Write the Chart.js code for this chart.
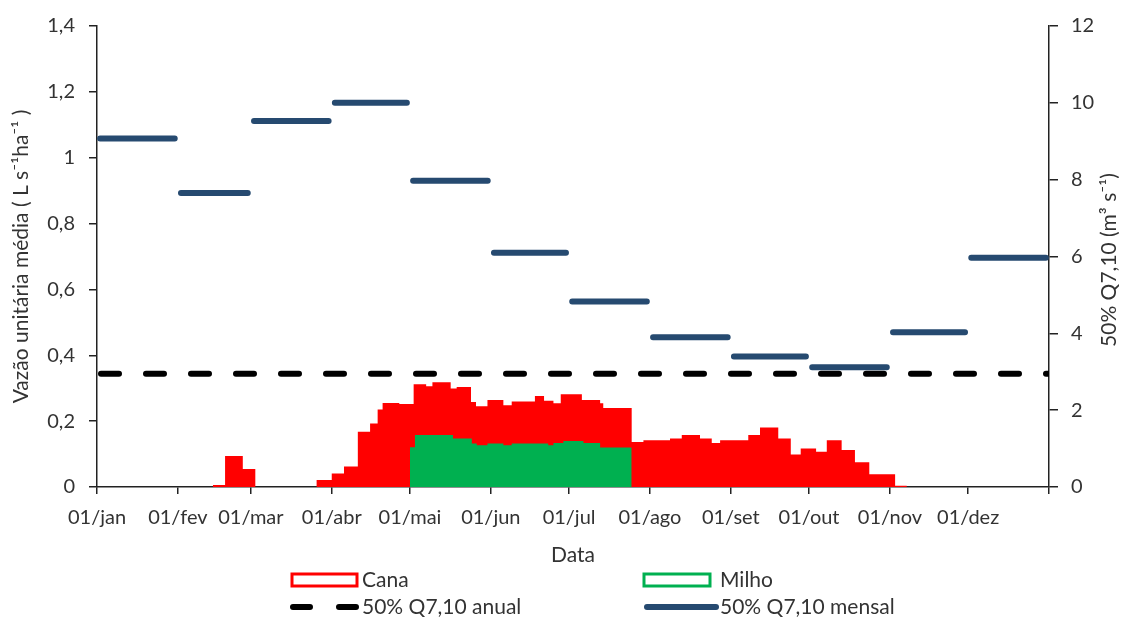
<!DOCTYPE html>
<html><head><meta charset="utf-8">
<script src="https://cdn.jsdelivr.net/npm/chart.js@4/dist/chart.umd.min.js"></script>
<style>html,body{margin:0;padding:0;background:#fff;} #wrap{width:1121px;height:618px;}</style>
</head><body><div id="wrap"><canvas id="c" width="1121" height="618"></canvas></div>
<script>
// ---- data ----
const monthTickDays = [0,31,59,90,120,151,181,212,243,273,304,334,365];
const monthTickLabels = ['01/jan','01/fev','01/mar','01/abr','01/mai','01/jun','01/jul','01/ago','01/set','01/out','01/nov','01/dez',''];
const leftTicks = [0,0.2,0.4,0.6,0.8,1,1.2,1.4];
const rightTicks = [0,2,4,6,8,10,12];

// Cana (step starts, day of year) and values (L s-1 ha-1)
const canaDays = [44.4,49.1,55.9,60.7,84.2,90.0,94.7,100.0,104.7,107.6,109.5,115.9,121.4,126.2,128.6,135.6,137.9,143.4,145.3,149.7,155.8,159.0,167.9,171.4,175.0,177.8,185.9,192.9,194.1,205.0,209.5,219.7,224.2,231.2,235.7,238.9,249.7,254.2,261.2,266.0,269.8,275.7,279.8,285.5,290.6,296.1,306.0,310.5];
const canaValues = [0.006,0.094,0.055,0,0.021,0.041,0.062,0.168,0.193,0.235,0.255,0.252,0.312,0.306,0.318,0.299,0.304,0.258,0.245,0.264,0.248,0.260,0.276,0.262,0.254,0.282,0.264,0.254,0.240,0.137,0.142,0.147,0.158,0.147,0.134,0.142,0.158,0.181,0.147,0.099,0.117,0.107,0.142,0.112,0.075,0.039,0.004,0];

// Milho
const milhoDays = [120.0,121.9,136.5,143.7,145.6,149.7,155.8,159.0,173.0,175.0,178.8,186.5,192.9,205.0];
const milhoValues = [0.121,0.158,0.147,0.132,0.127,0.132,0.127,0.132,0.127,0.134,0.140,0.134,0.120,0];

// 50% Q7,10 monthly (m3 s-1)
const monthStartDays = [0,31,59,90,120,151,181,212,243,273,304,334];
const monthEndDays = [31,59,90,120,151,181,212,243,273,304,334,365];
const q710Mensal = [9.07,7.65,9.53,10.0,7.97,6.10,4.83,3.90,3.40,3.12,4.03,5.97];
const q710Anual = 2.95;

const seriesLabels = ['Cana','Milho','50% Q7,10 anual','50% Q7,10 mensal'];
const leftTitle = 'Vazão unitária média ( L s⁻¹ha⁻¹ )';
const rightTitle = '50% Q7,10 (m³ s⁻¹)';
const xTitle = 'Data';

// ---- build ----
const FONT = 'Lato';
const TXT = '#333333';
const RED = '#ff0000', GREEN = '#00b050', BLUE = '#264a70';
const TICK_SIZE = 20, TITLE_SIZE = 21;

const canaData = canaDays.map((d,i)=>({x:d,y:canaValues[i]}));
const milhoData = milhoDays.map((d,i)=>({x:d,y:milhoValues[i]}));
const mensalData = [];
q710Mensal.forEach((v,i)=>{
  mensalData.push({x:monthStartDays[i]+1.2,y:v});
  mensalData.push({x:monthEndDays[i]-1.2,y:v});
  mensalData.push({x:monthEndDays[i]-0.6,y:null});
});
const anualData = [{x:0,y:q710Anual},{x:365,y:q710Anual}];

function fmt(v){ const r=Math.round(v*10)/10; return Number.isInteger(r)?String(r):r.toFixed(1).replace('.',','); }

const extras = {
  id:'extras',
  afterDraw(chart){
    const ctx = chart.ctx;
    const ds = chart.data.datasets;
    ctx.save();
    ctx.fillStyle = TXT;
    ctx.font = TITLE_SIZE+'px '+FONT;
    ctx.textAlign='center'; ctx.textBaseline='middle';
    ctx.translate(1109,260); ctx.rotate(-Math.PI/2);
    ctx.fillText(rightTitle,0,0);
    ctx.restore();

    ctx.save();
    ctx.font = TITLE_SIZE+'px '+FONT;
    ctx.textBaseline='middle'; ctx.textAlign='left';
    // Cana
    ctx.fillStyle='#fff'; ctx.strokeStyle=RED; ctx.lineWidth=3;
    ctx.fillRect(292,574,65,12); ctx.strokeRect(292,574,65,12);
    // Milho
    ctx.strokeStyle=GREEN;
    ctx.fillRect(644,574,66,12); ctx.strokeRect(644,574,66,12);
    // anual dashed
    ctx.strokeStyle='#000'; ctx.lineWidth=6; ctx.lineCap='round';
    ctx.setLineDash([17,29]); ctx.lineDashOffset=0;
    ctx.beginPath(); ctx.moveTo(293,607); ctx.lineTo(358,607); ctx.stroke();
    ctx.setLineDash([]);
    // mensal
    ctx.strokeStyle=BLUE;
    ctx.beginPath(); ctx.moveTo(647,607); ctx.lineTo(716,607); ctx.stroke();
    ctx.fillStyle=TXT;
    ctx.fillText(ds[0].label,362,580);
    ctx.fillText(ds[1].label,720,580);
    ctx.fillText(ds[2].label,362,607);
    ctx.fillText(ds[3].label,720,607);
    ctx.restore();
  }
};

new Chart(document.getElementById('c'),{
  type:'line',
  data:{datasets:[
    {label:seriesLabels[0],data:canaData,yAxisID:'y',stepped:'before',fill:'origin',backgroundColor:RED,borderColor:'rgba(0,0,0,0)',borderWidth:0,pointRadius:0,order:3},
    {label:seriesLabels[1],data:milhoData,yAxisID:'y',stepped:'before',fill:'origin',backgroundColor:GREEN,borderColor:'rgba(0,0,0,0)',borderWidth:0,pointRadius:0,order:2},
    {label:seriesLabels[2],data:anualData,yAxisID:'y1',borderColor:'#000',borderWidth:6,borderDash:[18,27],borderDashOffset:-4,borderCapStyle:'round',pointRadius:0,fill:false,order:0},
    {label:seriesLabels[3],data:mensalData,yAxisID:'y1',borderColor:BLUE,borderWidth:6,borderCapStyle:'round',pointRadius:0,fill:false,spanGaps:false,order:1}
  ]},
  options:{
    responsive:false, animation:false, devicePixelRatio:1,
    layout:{padding:{left:0,right:0,top:25,bottom:50}},
    plugins:{legend:{display:false},tooltip:{enabled:false}},
    scales:{
      x:{type:'linear',position:'bottom',min:0,max:365,
        afterFit(s){s.height=81;},
        afterBuildTicks(s){s.ticks=monthTickDays.map(v=>({value:v}));},
        ticks:{autoSkip:false,maxRotation:0,minRotation:0,color:TXT,font:{family:FONT,size:TICK_SIZE},padding:12,
          callback:(v,i)=>monthTickLabels[i]},
        grid:{drawOnChartArea:false,drawTicks:true,tickLength:7,color:'#222',lineWidth:1.5},
        border:{display:true,color:'#222',width:1.5},
        title:{display:true,text:xTitle,color:TXT,font:{family:FONT,size:TITLE_SIZE},padding:{top:0,bottom:0}}
      },
      y:{type:'linear',position:'left',min:0,max:1.4,
        afterFit(s){s.width=97;},
        afterBuildTicks(s){s.ticks=leftTicks.map(v=>({value:v}));},
        ticks:{color:TXT,font:{family:FONT,size:TICK_SIZE},padding:14,callback:(v)=>fmt(v)},
        grid:{drawOnChartArea:false,drawTicks:true,tickLength:8,color:'#222',lineWidth:1.5},
        border:{display:true,color:'#222',width:1.5},
        title:{display:true,text:leftTitle,color:TXT,font:{family:FONT,size:TITLE_SIZE},padding:{top:9,bottom:0}}
      },
      y1:{type:'linear',position:'right',min:0,max:12,
        afterFit(s){s.width=72;},
        afterBuildTicks(s){s.ticks=rightTicks.map(v=>({value:v}));},
        ticks:{color:TXT,font:{family:FONT,size:TICK_SIZE},padding:13,callback:(v)=>String(v)},
        grid:{drawOnChartArea:false,drawTicks:true,tickLength:9,color:'#222',lineWidth:1.5},
        border:{display:true,color:'#222',width:1.5}
      }
    }
  },
  plugins:[extras]
});
</script>
</body></html>
